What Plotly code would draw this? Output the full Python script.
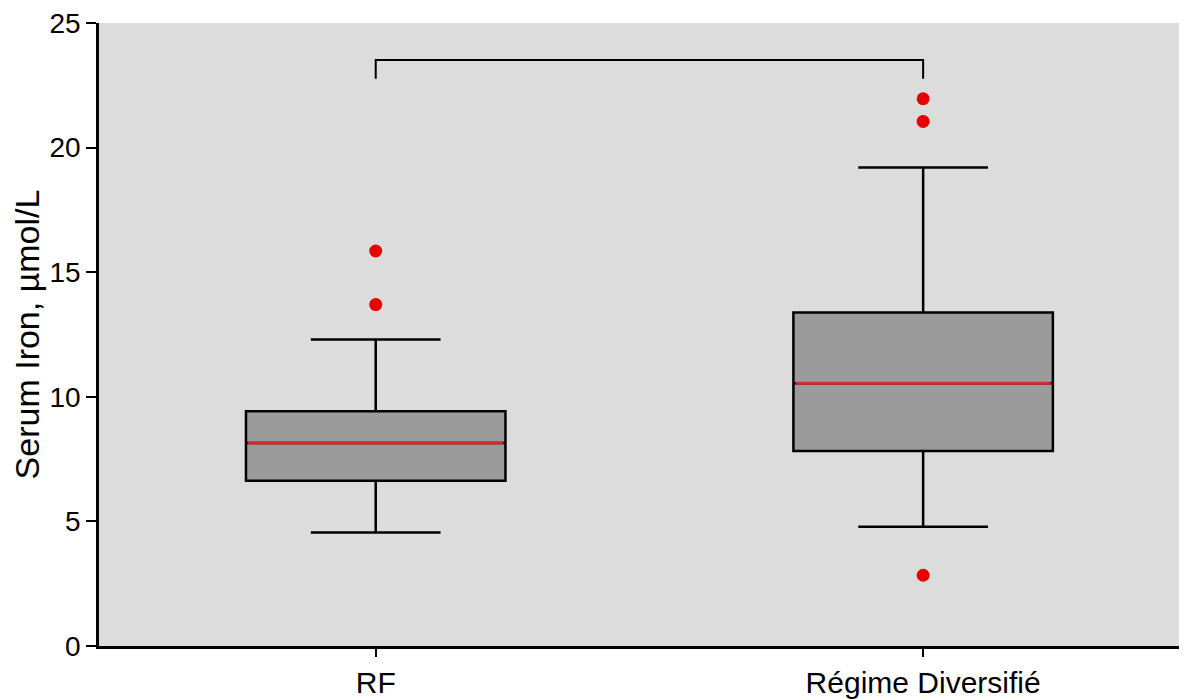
import plotly.graph_objects as go

# ---- data ----
categories = ["RF", "Régime Diversifié"]
positions = [0, 1]
q1 = [6.63, 7.83]
median = [8.15, 10.54]
q3 = [9.42, 13.38]
lower_whisker = [4.55, 4.79]
upper_whisker = [12.3, 19.2]
outliers = [[15.85, 13.7], [21.96, 21.05, 2.84]]
bracket_top = 23.52
bracket_end = 22.76
y_ticks = [0, 5, 10, 15, 20, 25]

BOX_W = 0.474
FONT = "Arial, Liberation Sans, Helvetica, sans-serif"

fig = go.Figure()

for i, cat in enumerate(categories):
    fig.add_trace(go.Box(
        x=[positions[i]], q1=[q1[i]], median=[median[i]], q3=[q3[i]],
        lowerfence=[lower_whisker[i]], upperfence=[upper_whisker[i]],
        width=BOX_W, whiskerwidth=0.5,
        fillcolor="#9b9b9b", line=dict(color="black", width=2.5),
        boxpoints=False, showlegend=False, hoverinfo="skip", name=cat,
    ))
    fig.add_trace(go.Scatter(
        x=[positions[i] - BOX_W / 2 + 0.004, positions[i] + BOX_W / 2 - 0.004],
        y=[median[i], median[i]], mode="lines",
        line=dict(color="#d42a2a", width=3), showlegend=False, hoverinfo="skip",
    ))
    fig.add_trace(go.Scatter(
        x=[positions[i]] * len(outliers[i]), y=outliers[i], mode="markers",
        marker=dict(color="#e60000", size=13), showlegend=False,
    ))

fig.add_trace(go.Scatter(
    x=[positions[0], positions[0], positions[1], positions[1]],
    y=[bracket_end, bracket_top, bracket_top, bracket_end],
    mode="lines", line=dict(color="black", width=2), showlegend=False, hoverinfo="skip",
))

fig.update_layout(
    width=1179, height=691,
    margin=dict(l=91, r=0, t=15, b=50),
    paper_bgcolor="white", plot_bgcolor="#dcdcdc",
    font=dict(family=FONT, color="black"),
    xaxis=dict(
        range=[-0.5055, 1.482], tickvals=positions, ticktext=categories,
        showline=True, linecolor="black", linewidth=2.5,
        ticks="outside", ticklen=8, tickwidth=2, tickcolor="black",
        showgrid=False, zeroline=False, tickfont=dict(size=30),
        ticklabeloverflow="allow",
    ),
    yaxis=dict(
        range=[0, 25], tickvals=y_ticks,
        showline=True, linecolor="black", linewidth=2.5,
        ticks="outside", ticklen=10, tickwidth=2, tickcolor="black",
        showgrid=False, zeroline=False, tickfont=dict(size=28),
        ticklabeloverflow="allow",
        title=dict(text="Serum Iron, µmol/L", font=dict(size=34), standoff=0),
    ),
)

fig.write_html("out.html")
